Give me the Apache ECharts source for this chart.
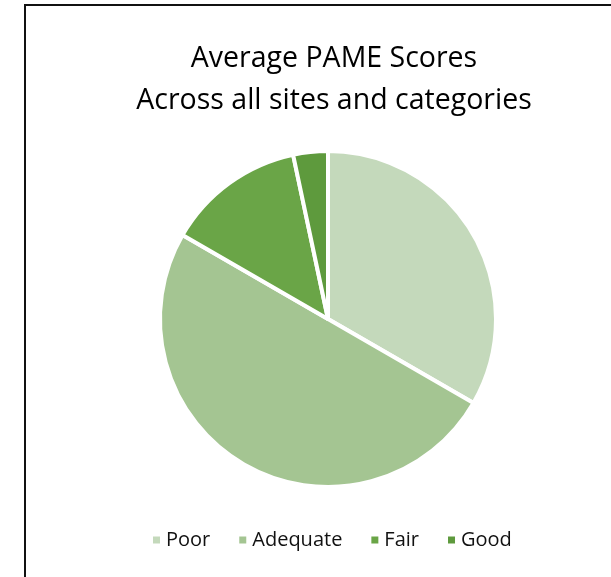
<!DOCTYPE html>
<html>
<head>
<meta charset="utf-8">
<script src="https://cdn.jsdelivr.net/npm/echarts@6/dist/echarts.min.js"></script>
<style>
  html, body { margin: 0; padding: 0; background: #fff; }
  #chart { width: 611px; height: 577px; }
</style>
</head>
<body>
<div id="chart"></div>
<script>
// categories and values (share of sites)
const categories = ['Poor', 'Adequate', 'Fair', 'Good'];
const scores = [10, 15, 4, 1];
const colors = ['#c4d9bb', '#a4c592', '#6aa547', '#5e9a3d'];

const chart = echarts.init(document.getElementById('chart'));

chart.setOption({
  animation: false,
  title: {
    text: 'Average PAME Scores\nAcross all sites and categories',
    left: 329,
    textAlign: 'center',
    top: 33,
    textStyle: {
      fontFamily: 'Open Sans',
      fontWeight: 'normal',
      fontSize: 28.5,
      lineHeight: 42,
      color: '#000'
    }
  },
  legend: {
    bottom: 22,
    left: 146,
    itemWidth: 9,
    itemHeight: 9,
    itemGap: 27,
    icon: 'rect',
    textStyle: { fontFamily: 'Open Sans', fontSize: 20, color: '#111' },
    data: categories
  },
  graphic: [{
    type: 'rect',
    shape: { x: 25, y: 5, width: 700, height: 700 },
    style: { fill: 'none', stroke: '#111', lineWidth: 2 },
    silent: true
  }],
  series: [{
    type: 'pie',
    center: [328, 319],
    radius: 168,
    startAngle: 90,
    clockwise: true,
    label: { show: false },
    labelLine: { show: false },
    itemStyle: { borderColor: '#fff', borderWidth: 4 },
    data: categories.map((c, i) => ({
      name: c,
      value: scores[i],
      itemStyle: { color: colors[i] }
    }))
  }]
});
</script>
</body>
</html>
